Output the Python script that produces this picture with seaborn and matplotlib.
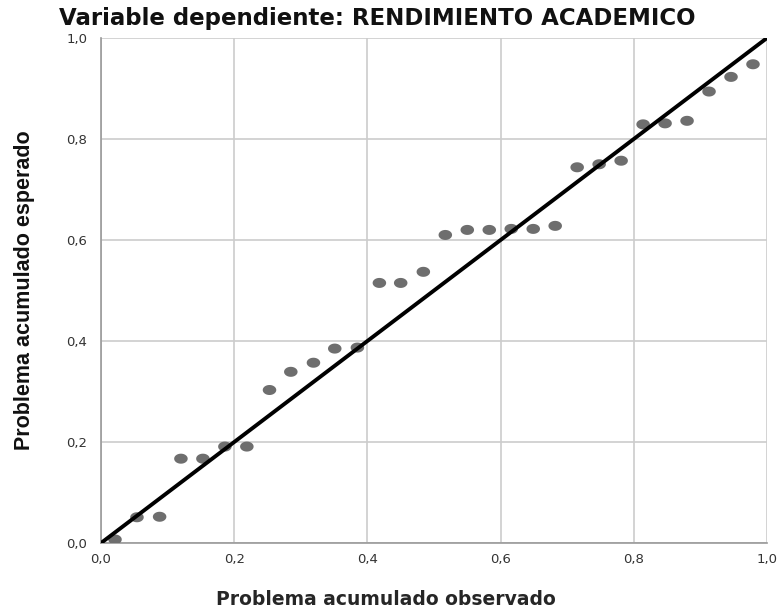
import numpy as np
import pandas as pd
import matplotlib
matplotlib.use("Agg")
import matplotlib.pyplot as plt
import seaborn as sns

observado = [0.021, 0.054, 0.088, 0.120, 0.153, 0.186, 0.219, 0.253, 0.285, 0.319,
             0.351, 0.385, 0.418, 0.450, 0.484, 0.517, 0.550, 0.583, 0.616, 0.649,
             0.682, 0.715, 0.748, 0.781, 0.814, 0.847, 0.880, 0.913, 0.946, 0.979]
esperado = [0.007, 0.051, 0.052, 0.167, 0.167, 0.191, 0.191, 0.303, 0.339, 0.357,
            0.385, 0.387, 0.515, 0.515, 0.537, 0.610, 0.620, 0.620, 0.622, 0.622,
            0.628, 0.744, 0.750, 0.757, 0.829, 0.831, 0.836, 0.894, 0.923, 0.948]
ticks = [0.0, 0.2, 0.4, 0.6, 0.8, 1.0]
tick_labels = ["0,0", "0,2", "0,4", "0,6", "0,8", "1,0"]

df = pd.DataFrame({"observado": observado, "esperado": esperado})

sns.set_style("white")
plt.rcParams['font.family'] = ['DejaVu Sans']

fig = plt.figure(figsize=(7.8, 6.1), dpi=100)
ax = fig.add_axes([0.1295, 0.1098, 0.8538, 0.8279])

ax.set_xlim(0, 1)
ax.set_ylim(0, 1)
ax.set_xticks(ticks)
ax.set_yticks(ticks)
ax.set_xticklabels(tick_labels)
ax.set_yticklabels(tick_labels)
ax.grid(True, color="#cccccc", linewidth=1.2)
ax.set_axisbelow(True)

# marcador eliptico como en SPSS
t = np.linspace(0, 2 * np.pi, 40)
elipse = list(zip(1.35 * np.cos(t), np.sin(t)))

sns.scatterplot(data=df, x="observado", y="esperado", ax=ax, marker=elipse,
                s=95, color="#6e6e6e", edgecolor="none", zorder=3)
sns.lineplot(x=[0, 1], y=[0, 1], ax=ax, color="black", linewidth=2.8, zorder=4)

for side in ["top", "right"]:
    ax.spines[side].set_visible(False)
for side in ["left", "bottom"]:
    ax.spines[side].set_color("#999999")
    ax.spines[side].set_linewidth(1.2)

ax.tick_params(axis="both", labelsize=9.5, colors="#333333", length=3)
ax.tick_params(axis="both", color="#999999")
ax.tick_params(axis="y", pad=7)
ax.tick_params(axis="x", pad=4)

fig.text(0.484, 0.969, "Variable dependiente: RENDIMIENTO ACADEMICO",
         fontsize=16.5, fontweight="bold", ha="center", va="center", color="#111111")
ax.set_xlabel("Problema acumulado observado", fontsize=13.5, fontweight="bold")
ax.xaxis.set_label_coords(0.428, -0.093)
ax.set_ylabel("Problema acumulado esperado", fontsize=15.5, fontweight="bold",
              family=['Liberation Sans', 'DejaVu Sans'], color="#111111")
ax.yaxis.set_label_coords(-0.099, 0.5)

fig.savefig("out.png", dpi=100)
